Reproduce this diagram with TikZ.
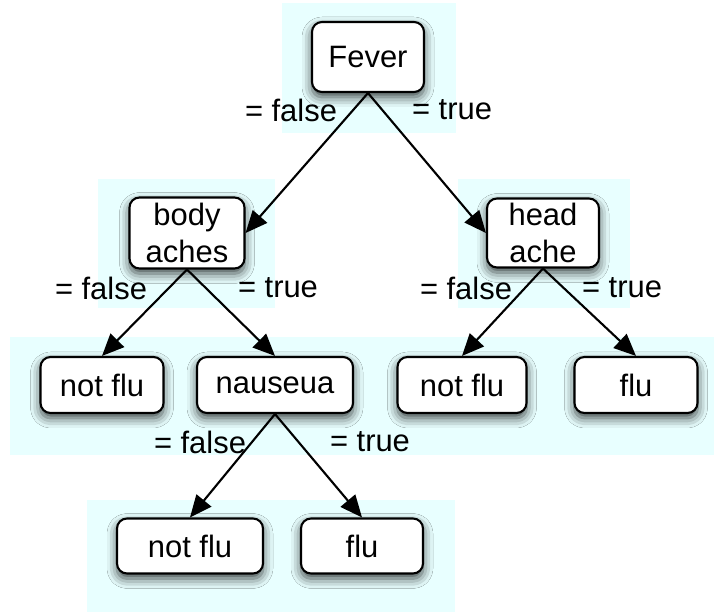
\documentclass[tikz,border=0pt]{standalone}
\usepackage{fontspec}
\setmainfont{Liberation Sans}
\usetikzlibrary{arrows.meta, shadows.blur}
\definecolor{bgcyan}{RGB}{232,255,255}
\tikzset{
  box/.style={draw, line width=1.2pt, rounded corners=0.2cm, fill=white,
    align=center, inner sep=2pt, minimum height=1.12cm,
    blur shadow={shadow xshift=0cm, shadow yshift=-0.1cm,
      shadow blur radius=0.2cm, shadow opacity=75}},
  lbl/.style={inner sep=0pt},
  arr/.style={-{Triangle[length=0.44cm, width=0.38cm]}, line width=1.2pt},
  every node/.style={font=\fontsize{17.6}{21}\selectfont}
}
\begin{document}
\begin{tikzpicture}
\useasboundingbox (0,0) rectangle (14.28,12.26);
% light backgrounds
\fill[bgcyan] (5.64,9.6) rectangle (9.12,12.2);
\fill[bgcyan] (1.96,6.1) rectangle (5.5,8.68);
\fill[bgcyan] (9.16,6.1) rectangle (12.6,8.68);
\fill[bgcyan] (0.2,3.16) rectangle (14.28,5.52);
\fill[bgcyan] (1.74,0.02) rectangle (9.1,2.26);
% nodes
\node[box, minimum width=2.24cm, minimum height=1.4cm] (fever) at (7.36,11.12) {Fever};
\node[box, minimum width=2.3cm, minimum height=1.42cm] (body) at (3.74,7.6) {body\\aches};
\node[box, minimum width=2.24cm, minimum height=1.38cm] (head) at (10.86,7.6) {head\\ache};
\node[box, minimum width=2.46cm] (notfluA) at (2.04,4.56) {not flu};
\node[box, minimum width=3.12cm] (nausea) at (5.5,4.56) {nauseua};
\node[box, minimum width=2.58cm] (notfluB) at (9.24,4.56) {not flu};
\node[box, minimum width=2.46cm] (fluB) at (12.72,4.56) {flu};
\node[box, minimum width=2.92cm, minimum height=1.1cm] (notfluC) at (3.8,1.34) {not flu};
\node[box, minimum width=2.44cm, minimum height=1.1cm] (fluC) at (7.24,1.34) {flu};
% labels
\node[lbl] (feverF) at (5.82,10.06) {= false};
\node[lbl] (feverT) at (9.04,10.06) {= true};
\node[lbl] (bodyF) at (2.02,6.5) {= false};
\node[lbl] (bodyT) at (5.56,6.5) {= true};
\node[lbl] (headF) at (9.32,6.5) {= false};
\node[lbl] (headT) at (12.44,6.5) {= true};
\node[lbl] (nauseaF) at (4.0,3.42) {= false};
\node[lbl] (nauseaT) at (7.4,3.42) {= true};
% edges
\draw[arr] (fever.south) to (body.east);
\draw[arr] (fever.south) to (head.west);
\draw[arr] (body.south) to (notfluA.north);
\draw[arr] (body.south) to (nausea.north);
\draw[arr] (head.south) to (notfluB.north);
\draw[arr] (head.south) to (fluB.north);
\draw[arr] (nausea.south) to (notfluC.north);
\draw[arr] (nausea.south) to (fluC.north);
\end{tikzpicture}
\end{document}
